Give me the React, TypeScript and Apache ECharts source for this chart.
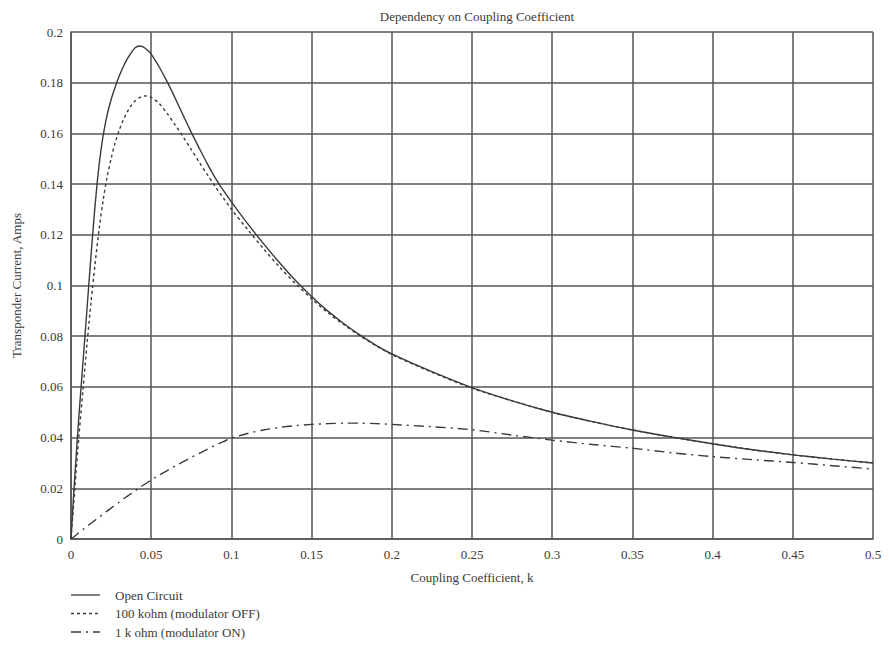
import React, { useEffect, useRef } from "react";
import * as echarts from "echarts";

const kValues = [
  0, 0.0025, 0.005, 0.0075, 0.01, 0.0125, 0.015, 0.0175, 0.02, 0.0225, 0.025, 0.0275, 0.03, 0.0325, 0.035, 0.0375, 0.04, 0.0425, 0.045, 0.0475, 0.05,
  0.055, 0.06, 0.065, 0.07, 0.075, 0.08, 0.085, 0.09, 0.095, 0.1,
  0.11, 0.12, 0.13, 0.14, 0.15, 0.16, 0.17, 0.18, 0.19, 0.2,
  0.225, 0.25, 0.275, 0.3, 0.325, 0.35, 0.375, 0.4, 0.425, 0.45, 0.475, 0.5,
];

const openCircuit = [
  0, 0.026, 0.049, 0.07, 0.091, 0.112, 0.1315, 0.1475, 0.159, 0.1672, 0.1733, 0.1782, 0.1825, 0.1862, 0.1893, 0.1918, 0.1938, 0.1945, 0.1941, 0.1929, 0.1913,
  0.1862, 0.1803, 0.1738, 0.167, 0.1604, 0.1541, 0.148, 0.1424, 0.1375, 0.133,
  0.1245, 0.1165, 0.109, 0.102, 0.0957, 0.09, 0.085, 0.0805, 0.0765, 0.073,
  0.066, 0.0597, 0.0545, 0.05, 0.0463, 0.043, 0.0402, 0.0376, 0.0352, 0.0332, 0.0315, 0.03,
];

const kohm100 = [
  0, 0.021, 0.041, 0.059, 0.077, 0.0935, 0.1085, 0.122, 0.1335, 0.1428, 0.15, 0.1563, 0.1612, 0.1652, 0.1684, 0.1709, 0.1728, 0.174, 0.1747, 0.1748, 0.1742,
  0.1718, 0.1678, 0.1633, 0.1586, 0.1536, 0.1486, 0.1437, 0.139, 0.1345, 0.1301,
  0.1222, 0.1145, 0.1073, 0.1007, 0.0948, 0.0893, 0.0846, 0.0802, 0.0763, 0.0728,
  0.0658, 0.0595, 0.0545, 0.05, 0.0463, 0.043, 0.0402, 0.0376, 0.0352, 0.0332, 0.0315, 0.03,
];

const kohm1 = [
  0, 0.0012, 0.0025, 0.0037, 0.005, 0.0062, 0.0074, 0.0086, 0.0098, 0.011, 0.0122, 0.0134, 0.0145, 0.0157, 0.0168, 0.0179, 0.019, 0.0201, 0.0212, 0.0222, 0.0233,
  0.0252, 0.027, 0.0288, 0.0305, 0.0322, 0.0338, 0.0354, 0.037, 0.0384, 0.0398,
  0.0416, 0.043, 0.044, 0.0447, 0.0452, 0.0455, 0.0457, 0.0457, 0.0455, 0.0452,
  0.0443, 0.0431, 0.041, 0.039, 0.0373, 0.0358, 0.034, 0.0325, 0.0313, 0.0302, 0.0289, 0.0276,
];

const seriesNames = ["Open Circuit", "100 kohm (modulator OFF)", "1 k ohm (modulator ON)"];
const seriesDashes: (number[] | null)[] = [null, [3, 3], [10, 5, 2, 5]];

const FONT = "'Liberation Serif', 'DejaVu Serif', serif";
const TEXT = "#3a3a3a";
const GRIDC = "#555555";
const LINEC = "#3a3a3a";

export default function App() {
  const ref = useRef<HTMLDivElement>(null);
  useEffect(() => {
    if (!ref.current) return;
    const chart = echarts.init(ref.current, undefined, { renderer: "svg" });
    const toPairs = (arr: number[]) => kValues.map((k, i) => [k, arr[i]]);
    const legendGraphics: any[] = [];
    seriesNames.forEach((name, i) => {
      const y = 595 + i * 18.5;
      legendGraphics.push({
        type: "line",
        shape: { x1: 71, y1: y, x2: 100, y2: y },
        style: { stroke: LINEC, lineWidth: 1.3, lineDash: seriesDashes[i] || undefined },
      });
      legendGraphics.push({
        type: "text",
        x: 115,
        y: y,
        style: {
          text: name,
          font: `13px ${FONT}`,
          fill: TEXT,
          verticalAlign: "middle",
          align: "left",
        },
      });
    });
    chart.setOption({
      animation: false,
      backgroundColor: "#ffffff",
      title: {
        text: "Dependency on Coupling Coefficient",
        left: 472,
        textAlign: "center",
        top: 5,
        textStyle: { fontFamily: FONT, fontSize: 13, fontWeight: "normal", color: TEXT },
      },
      grid: { left: 71, right: 16, top: 32, bottom: 106 },
      graphic: legendGraphics,
      xAxis: {
        type: "value",
        min: 0,
        max: 0.5,
        interval: 0.05,
        name: "Coupling Coefficient, k",
        nameLocation: "middle",
        nameGap: 32,
        nameTextStyle: { fontFamily: FONT, fontSize: 13, color: TEXT },
        axisLine: { show: true, lineStyle: { color: GRIDC, width: 1.5 } },
        axisTick: { show: false },
        axisLabel: { fontFamily: FONT, fontSize: 13, color: TEXT, margin: 9 },
        splitLine: { show: true, lineStyle: { color: GRIDC, width: 1.5 } },
      },
      yAxis: {
        type: "value",
        min: 0,
        max: 0.2,
        interval: 0.02,
        name: "Transponder Current, Amps",
        nameLocation: "middle",
        nameGap: 48,
        nameTextStyle: { fontFamily: FONT, fontSize: 13, color: TEXT },
        axisLine: { show: true, lineStyle: { color: GRIDC, width: 1.5 } },
        axisTick: { show: false },
        axisLabel: { fontFamily: FONT, fontSize: 13, color: TEXT, margin: 8 },
        splitLine: { show: true, lineStyle: { color: GRIDC, width: 1.5 } },
      },
      series: seriesNames.map((name, i) => ({
        name,
        type: "line",
        data: toPairs([openCircuit, kohm100, kohm1][i]),
        smooth: 0.3,
        symbol: "none",
        lineStyle: { color: LINEC, width: 1.4, type: seriesDashes[i] || "solid" },
        itemStyle: { color: LINEC },
      })),
    });
    return () => chart.dispose();
  }, []);
  return (
    <div
      ref={ref}
      style={{ position: "fixed", left: 0, top: 0, width: 889, height: 645, background: "#fff" }}
    />
  );
}
